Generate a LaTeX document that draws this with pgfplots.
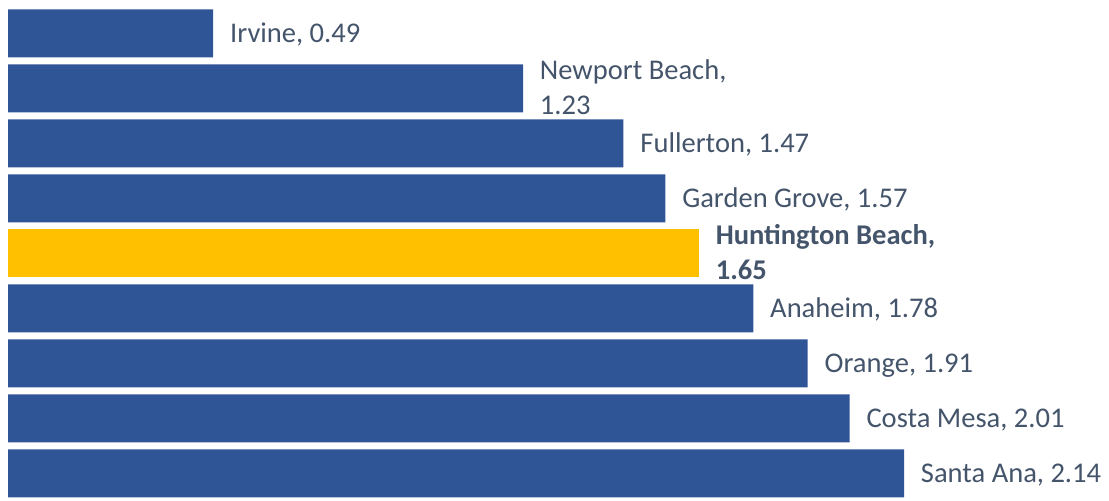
\documentclass[border=0pt]{standalone}
\usepackage{fontspec}
\setmainfont{Carlito}
\usepackage{pgfplots}
\pgfplotsset{compat=1.18}
\definecolor{barblue}{HTML}{2F5597}
\definecolor{baryellow}{HTML}{FFC000}
\definecolor{textgray}{HTML}{44546A}
\protected\def\twoline#1#2{\raisebox{13.125pt}{\begin{tabular}[t]{@{}l@{}}#1\\#2\end{tabular}}}
\begin{document}
\begin{tikzpicture}
\begin{axis}[
  at={(0,0)}, anchor=south west,
  scale only axis, width=831.75pt, height=375pt,
  xmin=-0.019107, xmax=2.62957, ymin=-0.4855, ymax=8.6054,
  hide axis, clip=false,
  xbar, bar width=36pt, bar shift=0pt,
  point meta=explicit symbolic,
  nodes near coords,
  every node near coord/.append style={anchor=base west, inner sep=0pt,
    xshift=12.5pt, yshift=-6.9pt, text=textgray,
    font=\fontsize{21.4pt}{26.25pt}\selectfont},
]
\addplot[fill=barblue, draw=none] coordinates {
  (0.49,8) [Irvine, 0.49]
  (1.23,7) [\twoline{Newport Beach,}{1.23}]
  (1.47,6) [Fullerton, 1.47]
  (1.57,5) [Garden Grove, 1.57]
  (1.78,3) [Anaheim, 1.78]
  (1.91,2) [Orange, 1.91]
  (2.01,1) [Costa Mesa, 2.01]
  (2.14,0) [Santa Ana, 2.14]
};
\addplot[fill=baryellow, draw=none,
  every node near coord/.append style={font=\fontsize{21.4pt}{26.25pt}\selectfont\bfseries}] coordinates {
  (1.65,4) [\twoline{Huntington Beach,}{1.65}]
};
\end{axis}
\pgfresetboundingbox
\useasboundingbox (0,0) rectangle (831.75pt,375pt);
\end{tikzpicture}
\end{document}
